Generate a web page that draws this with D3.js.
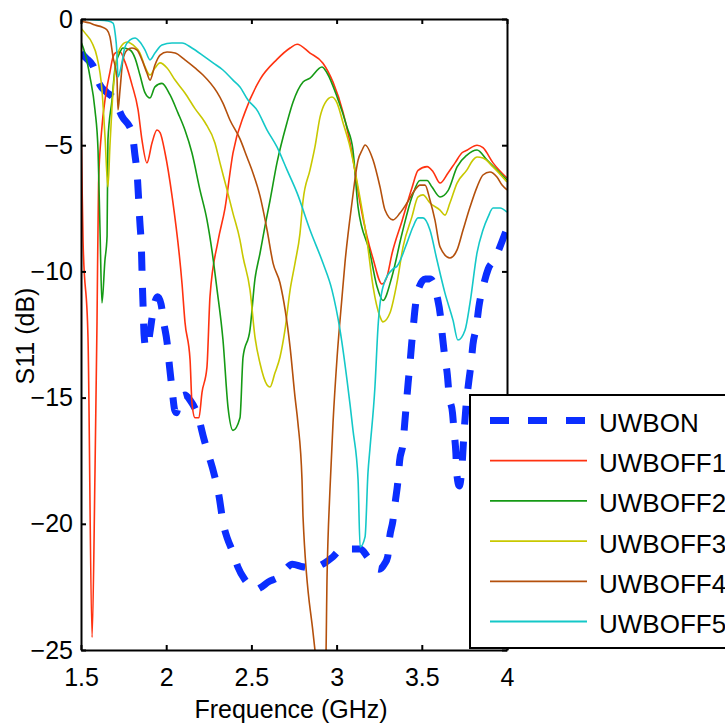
<!DOCTYPE html>
<html><head><meta charset="utf-8">
<script src="https://cdn.jsdelivr.net/npm/d3@7"></script>
<style>
body{margin:0;background:#fff}
svg{display:block;background:#fff}
text{font-family:"Liberation Sans",Arial,Helvetica,sans-serif;fill:#000}
</style>
</head><body>
<svg id="chart" width="725" height="724"></svg>
<script>
// ---------------- DATA ----------------
const seriesNames = ["UWBON","UWBOFF1","UWBOFF2","UWBOFF3","UWBOFF4","UWBOFF5"];
const seriesColors = ["#0b2eff","#ff3210","#159a15","#c8c800","#b4500c","#14c8c8"];

const xTickVals = [1.5,2,2.5,3,3.5,4];
const xTickLabels = ["1.5","2","2.5","3","3.5","4"];
const yTickVals = [-25,-20,-15,-10,-5,0];
const yTickLabels = ["\u221225","\u221220","\u221215","\u221210","\u22125","0"];

// [frequency GHz, S11 dB]
const UWBON = [[1.50,-1.35],[1.53,-1.55],[1.57,-1.85],[1.61,-2.6],[1.65,-2.9],[1.69,-3.13],[1.74,-3.85],[1.80,-4.5],[1.815,-5.3],[1.83,-6.2],[1.845,-8.0],[1.855,-9.2],[1.86,-10.5],[1.865,-11.5],[1.87,-12.5],[1.88,-13.0],[1.89,-13.0],[1.905,-12.4],[1.93,-11.3],[1.95,-11.0],[1.97,-11.3],[1.985,-12.0],[2.005,-12.8],[2.02,-13.8],[2.035,-14.7],[2.05,-15.5],[2.06,-15.6],[2.08,-15.0],[2.11,-14.9],[2.14,-15.1],[2.19,-15.8],[2.22,-16.6],[2.25,-17.3],[2.28,-18.0],[2.31,-18.9],[2.335,-20.0],[2.36,-20.6],[2.39,-21.1],[2.42,-21.7],[2.46,-22.2],[2.50,-22.5],[2.53,-22.6],[2.56,-22.5],[2.60,-22.3],[2.66,-22.1],[2.70,-21.8],[2.74,-21.6],[2.80,-21.7],[2.85,-21.75],[2.93,-21.55],[2.98,-21.3],[3.03,-21.0],[3.14,-21.0],[3.18,-21.3],[3.22,-21.7],[3.25,-21.8],[3.28,-21.6],[3.30,-21.3],[3.31,-20.6],[3.33,-19.9],[3.345,-19.1],[3.36,-18.3],[3.37,-17.5],[3.39,-16.8],[3.40,-16.0],[3.41,-15.2],[3.42,-14.4],[3.43,-13.7],[3.44,-12.9],[3.45,-12.2],[3.46,-11.5],[3.48,-10.7],[3.52,-10.3],[3.55,-10.3],[3.59,-11.0],[3.61,-11.8],[3.62,-12.5],[3.635,-13.4],[3.65,-14.1],[3.66,-14.9],[3.68,-15.6],[3.69,-16.4],[3.70,-17.2],[3.705,-18.0],[3.72,-18.5],[3.735,-17.8],[3.745,-16.7],[3.76,-15.3],[3.775,-14.4],[3.79,-13.6],[3.80,-12.9],[3.82,-12.2],[3.835,-11.4],[3.86,-10.6],[3.89,-9.9],[3.93,-9.5],[3.96,-9.0],[4.00,-8.3]];

const UWBOFF1 = [[1.500,-3.9],[1.505,-6.0],[1.512,-8.8],[1.541,-12.6],[1.565,-24.5],[1.582,-18.0],[1.594,-12.0],[1.603,-6.5],[1.620,-4.5],[1.645,-3.0],[1.670,-2.1],[1.688,-1.5],[1.705,-1.33],[1.729,-1.30],[1.758,-1.7],[1.799,-2.6],[1.835,-3.6],[1.858,-4.8],[1.887,-5.7],[1.917,-4.9],[1.946,-4.4],[1.964,-4.5],[1.993,-5.3],[2.034,-7.0],[2.093,-10.5],[2.110,-12.0],[2.140,-13.5],[2.151,-15.2],[2.169,-15.8],[2.192,-15.8],[2.210,-14.8],[2.239,-13.8],[2.257,-11.0],[2.304,-8.8],[2.345,-7.5],[2.392,-5.3],[2.462,-3.7],[2.550,-2.4],[2.650,-1.6],[2.727,-1.15],[2.768,-1.0],[2.844,-1.35],[2.920,-1.75],[2.979,-2.5],[3.038,-3.7],[3.090,-5.3],[3.138,-7.3],[3.178,-8.6],[3.214,-9.5],[3.266,-10.5],[3.296,-10.2],[3.325,-9.3],[3.384,-8.0],[3.442,-6.7],[3.478,-6.0],[3.531,-5.85],[3.566,-6.05],[3.607,-6.5],[3.654,-6.1],[3.695,-5.7],[3.736,-5.3],[3.765,-5.2],[3.824,-5.0],[3.859,-5.1],[3.918,-5.7],[4.000,-6.3]];

const UWBOFF2 = [[1.500,-0.9],[1.523,-1.35],[1.553,-2.3],[1.582,-3.6],[1.600,-5.2],[1.612,-8.5],[1.623,-11.25],[1.640,-9.6],[1.653,-8.6],[1.658,-4.8],[1.682,-3.2],[1.700,-1.94],[1.729,-1.31],[1.746,-1.15],[1.788,-1.23],[1.817,-1.55],[1.846,-2.22],[1.876,-2.93],[1.905,-3.13],[1.934,-2.69],[1.975,-2.55],[2.022,-3.0],[2.069,-3.72],[2.110,-4.4],[2.151,-5.3],[2.198,-6.77],[2.239,-7.95],[2.269,-9.2],[2.298,-10.7],[2.333,-12.7],[2.363,-15.4],[2.392,-16.3],[2.433,-15.8],[2.451,-13.4],[2.492,-12.3],[2.521,-10.3],[2.550,-9.3],[2.580,-8.2],[2.609,-7.2],[2.650,-5.7],[2.709,-4.1],[2.744,-3.3],[2.803,-2.5],[2.844,-2.34],[2.914,-1.9],[2.944,-2.14],[3.003,-3.09],[3.061,-4.28],[3.096,-5.19],[3.126,-7.45],[3.196,-9.27],[3.237,-10.6],[3.272,-11.15],[3.325,-10.2],[3.384,-8.5],[3.442,-7.05],[3.489,-6.4],[3.531,-6.4],[3.560,-6.66],[3.607,-7.05],[3.654,-6.8],[3.707,-5.86],[3.765,-5.39],[3.824,-5.19],[3.883,-5.59],[3.941,-5.98],[4.000,-6.38]];

const UWBOFF3 = [[1.500,-0.36],[1.523,-0.55],[1.565,-0.95],[1.594,-1.51],[1.623,-2.81],[1.641,-4.68],[1.658,-6.65],[1.670,-5.0],[1.682,-3.49],[1.711,-1.51],[1.729,-1.15],[1.770,-0.91],[1.805,-1.03],[1.846,-1.35],[1.876,-1.9],[1.905,-2.22],[1.934,-1.94],[1.964,-1.74],[2.005,-1.94],[2.052,-2.42],[2.110,-2.93],[2.169,-3.55],[2.228,-4.1],[2.286,-4.91],[2.316,-5.71],[2.357,-6.77],[2.392,-7.7],[2.433,-8.76],[2.451,-9.43],[2.492,-10.74],[2.521,-12.6],[2.550,-13.63],[2.592,-14.5],[2.609,-14.58],[2.638,-14.03],[2.668,-13.39],[2.697,-12.32],[2.727,-10.74],[2.756,-9.67],[2.785,-8.5],[2.803,-7.2],[2.844,-5.98],[2.873,-5.07],[2.903,-3.88],[2.932,-3.33],[2.973,-3.09],[3.003,-3.33],[3.038,-4.12],[3.079,-5.07],[3.126,-6.66],[3.178,-8.76],[3.214,-10.6],[3.255,-11.8],[3.272,-12.0],[3.313,-11.65],[3.354,-10.46],[3.390,-9.03],[3.442,-7.84],[3.478,-7.05],[3.507,-6.97],[3.548,-7.29],[3.607,-7.57],[3.636,-7.77],[3.665,-7.29],[3.707,-6.5],[3.765,-5.98],[3.800,-5.59],[3.824,-5.47],[3.859,-5.51],[3.918,-5.86],[4.000,-6.46]];

const UWBOFF4 = [[1.500,-0.1],[1.523,-0.12],[1.553,-0.16],[1.582,-0.24],[1.623,-0.32],[1.653,-0.44],[1.670,-0.71],[1.688,-1.51],[1.711,-2.30],[1.717,-3.6],[1.729,-2.81],[1.746,-1.62],[1.770,-1.23],[1.799,-1.15],[1.829,-1.23],[1.858,-1.62],[1.887,-2.14],[1.905,-2.42],[1.934,-1.82],[1.964,-1.43],[2.005,-1.31],[2.052,-1.35],[2.110,-1.62],[2.169,-1.94],[2.216,-2.22],[2.298,-2.9],[2.333,-3.33],[2.374,-4.0],[2.433,-4.75],[2.474,-5.47],[2.509,-6.1],[2.550,-7.0],[2.592,-8.36],[2.627,-9.67],[2.668,-10.46],[2.727,-13.0],[2.756,-14.98],[2.773,-16.0],[2.797,-18.26],[2.803,-19.73],[2.862,-24.33],[2.873,-25.0],[2.905,-26.8],[2.935,-26.0],[2.944,-22.1],[2.961,-18.66],[2.979,-16.0],[3.003,-13.39],[3.032,-11.0],[3.049,-9.67],[3.090,-7.29],[3.126,-5.59],[3.150,-5.19],[3.167,-4.99],[3.214,-5.59],[3.255,-6.66],[3.284,-7.57],[3.331,-7.96],[3.372,-7.69],[3.413,-7.29],[3.460,-6.77],[3.489,-6.58],[3.519,-6.58],[3.548,-7.17],[3.577,-7.96],[3.607,-9.03],[3.665,-9.47],[3.707,-9.15],[3.742,-8.36],[3.783,-7.45],[3.824,-6.66],[3.859,-6.18],[3.900,-6.06],[3.941,-6.26],[3.971,-6.58],[4.000,-6.77]];

const UWBOFF5 = [[1.500,0.0],[1.582,-0.04],[1.658,-0.08],[1.688,-0.16],[1.700,-0.55],[1.711,-1.35],[1.717,-2.3],[1.741,-1.7],[1.758,-1.11],[1.788,-0.83],[1.817,-0.75],[1.846,-0.91],[1.876,-1.23],[1.905,-1.62],[1.934,-1.35],[1.975,-1.03],[2.034,-0.95],[2.093,-0.95],[2.151,-1.15],[2.216,-1.45],[2.275,-1.74],[2.333,-2.02],[2.392,-2.42],[2.433,-2.69],[2.480,-3.21],[2.533,-3.61],[2.592,-4.4],[2.650,-5.07],[2.709,-5.98],[2.768,-6.89],[2.844,-8.36],[2.920,-9.67],[2.973,-10.74],[3.020,-12.32],[3.061,-14.3],[3.096,-16.28],[3.126,-18.26],[3.138,-20.92],[3.167,-20.52],[3.184,-17.99],[3.196,-17.0],[3.225,-14.58],[3.243,-12.2],[3.272,-10.62],[3.331,-9.9],[3.354,-9.8],[3.413,-8.87],[3.448,-8.24],[3.478,-7.88],[3.507,-7.88],[3.548,-8.36],[3.589,-9.55],[3.636,-10.86],[3.683,-11.93],[3.712,-12.72],[3.754,-12.32],[3.783,-11.25],[3.824,-9.27],[3.859,-8.36],[3.889,-7.84],[3.918,-7.49],[3.959,-7.49],[4.000,-7.65]];

const seriesData = [UWBON, UWBOFF1, UWBOFF2, UWBOFF3, UWBOFF4, UWBOFF5];

// ---------------- LAYOUT ----------------
const svg = d3.select("#chart");
const L = 81, R = 507, T = 19, B = 650;
const x = d3.scaleLinear().domain([1.5, 4]).range([L, R]);
const y = d3.scaleLinear().domain([-25, 0]).range([B, T]);
const FONT = '"Liberation Sans",Arial,Helvetica,sans-serif';

svg.append("defs").append("clipPath").attr("id","plotclip")
  .append("rect").attr("x", L).attr("y", T).attr("width", R - L).attr("height", B - T);

const line = d3.line().x(d => x(d[0])).y(d => y(d[1])).curve(d3.curveMonotoneX);

const plot = svg.append("g").attr("clip-path","url(#plotclip)");
seriesData.forEach((data, i) => {
  const p = plot.append("path")
    .attr("d", line(data))
    .attr("fill","none")
    .attr("stroke", seriesColors[i])
    .attr("stroke-linejoin","round");
  if (i === 0) {
    p.attr("stroke-width", 7).attr("stroke-dasharray","19,17").attr("stroke-linecap","butt");
  } else {
    p.attr("stroke-width", 1.6);
  }
});

// axes
function styleAxis(g) {
  g.attr("font-family", FONT).attr("font-size", 25);
  g.select(".domain").attr("stroke","#000").attr("stroke-width",2);
  g.selectAll(".tick line").attr("stroke","#000").attr("stroke-width",2);
  g.selectAll(".tick text").attr("fill","#000");
}
svg.append("g").attr("transform",`translate(0,${B})`)
  .call(d3.axisBottom(x).tickValues(xTickVals).tickFormat((d,i)=>xTickLabels[i])
        .tickSizeInner(-5).tickSizeOuter(0).tickPadding(18))
  .call(styleAxis);
svg.append("g").attr("transform",`translate(0,${T})`)
  .call(d3.axisTop(x).tickValues(xTickVals).tickFormat("").tickSizeInner(-5).tickSizeOuter(0))
  .call(styleAxis);
svg.append("g").attr("transform",`translate(${L},0)`)
  .call(d3.axisLeft(y).tickValues(yTickVals).tickFormat((d,i)=>yTickLabels[i])
        .tickSizeInner(-5).tickSizeOuter(0).tickPadding(8))
  .call(styleAxis);
svg.append("g").attr("transform",`translate(${R},0)`)
  .call(d3.axisRight(y).tickValues(yTickVals).tickFormat("").tickSizeInner(-5).tickSizeOuter(0))
  .call(styleAxis);

// axis titles
svg.append("text").attr("x", 291).attr("y", 718).attr("text-anchor","middle")
  .attr("font-size", 25).text("Frequence (GHz)");
svg.append("text").attr("transform","translate(33.5,336) rotate(-90)").attr("text-anchor","middle")
  .attr("font-size", 25).text("S11 (dB)");

// legend
const lg = svg.append("g");
lg.append("rect").attr("x", 470).attr("y", 395).attr("width", 320).attr("height", 253)
  .attr("fill","#fff").attr("stroke","#000").attr("stroke-width", 2);
seriesNames.forEach((name, i) => {
  const base = 432 + i * 40.2;
  const ly = base - 11.5;
  const ln = lg.append("line").attr("x1", 490).attr("x2", 587).attr("y1", ly).attr("y2", ly)
    .attr("stroke", seriesColors[i]);
  if (i === 0) ln.attr("stroke-width", 7).attr("stroke-dasharray","19,19");
  else ln.attr("stroke-width", 1.8);
  lg.append("text").attr("x", 599).attr("y", base).attr("font-size", 26).text(name);
});
</script>
</body></html>
